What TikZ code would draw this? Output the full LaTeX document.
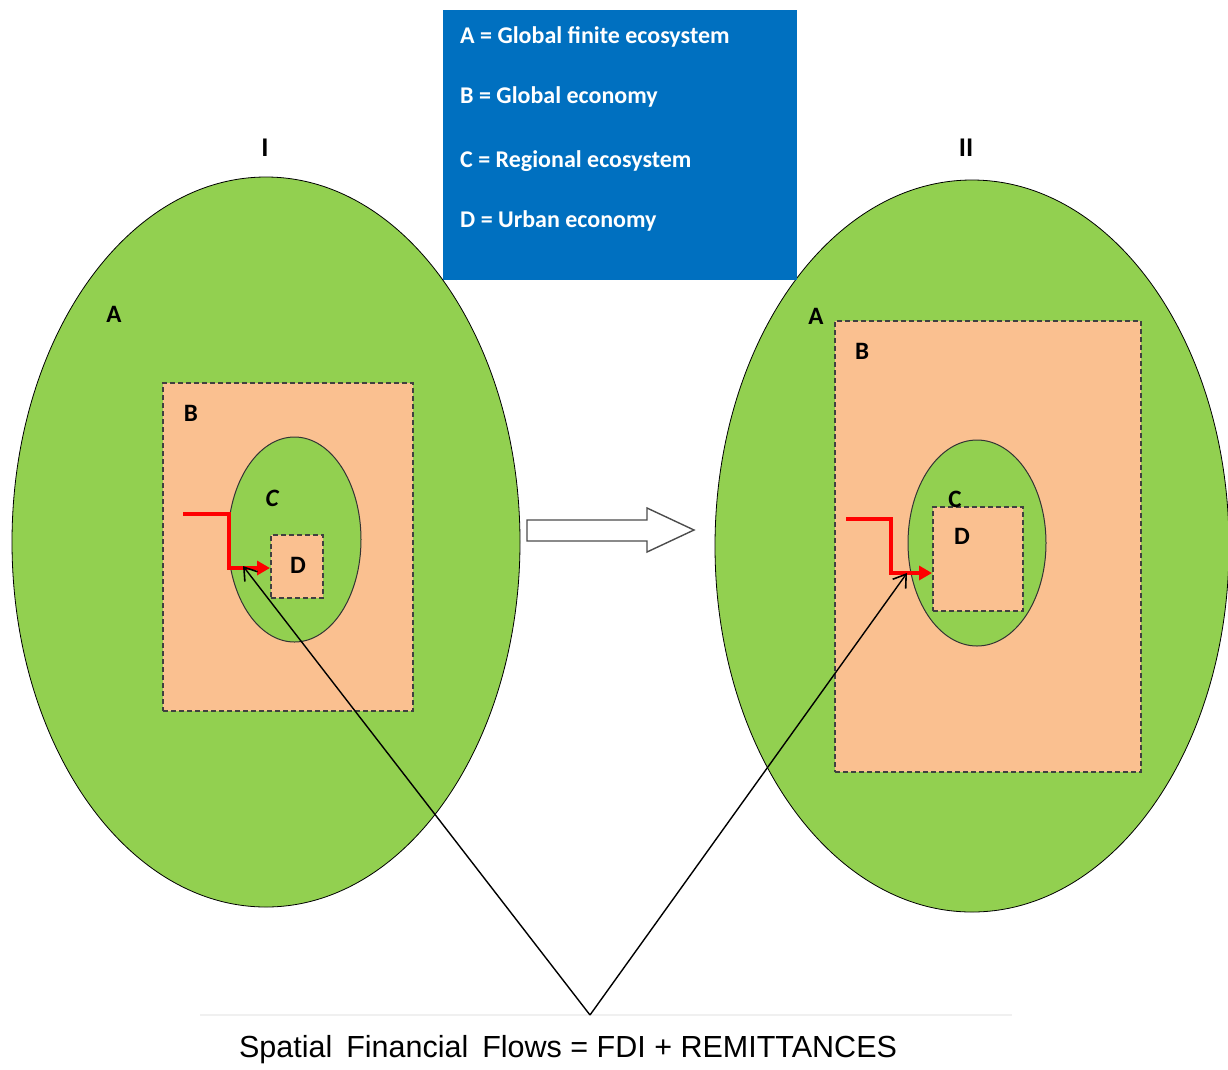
\documentclass[tikz,border=0pt]{standalone}
\usepackage{fontspec}
\setmainfont{Carlito}
\newfontfamily\arialf{Liberation Sans}
\usetikzlibrary{arrows.meta,shapes.geometric}
\definecolor{agreen}{HTML}{92D050}
\definecolor{peach}{HTML}{FAC090}
\definecolor{lblue}{HTML}{0070C0}
\definecolor{dashgray}{HTML}{404040}
\tikzset{
  bigell/.style={ellipse, draw=black, line width=0.8pt, fill=agreen, inner sep=0pt},
  regell/.style={ellipse, draw=black!80, line width=1pt, fill=agreen, inner sep=0pt},
  econbox/.style={draw=dashgray, dash pattern=on 5pt off 3pt, line width=2pt, fill=peach, inner sep=0pt},
  lbl/.style={font=\fontsize{25}{30}\selectfont\bfseries, text=black, inner sep=0pt},
  legtext/.style={font=\fontsize{24}{28}\selectfont\bfseries, text=white, anchor=west, inner sep=0pt},
  redflow/.style={draw=red, line width=3.8pt, -{Triangle[length=13pt,width=14pt]}},
  pointer/.style={draw=black, line width=1.4pt, -{Straight Barb[length=12pt,width=16pt,line width=1.6pt]}},
}
\begin{document}
\begin{tikzpicture}[x=1pt,y=-1pt]
\useasboundingbox (0,0) rectangle (1228,1069);
% Panel I
\node[bigell, minimum width=508pt, minimum height=730pt] (A1) at (266,542) {};
\node[econbox, minimum width=250pt, minimum height=328pt] (B1) at (288,547) {};
\node[regell, minimum width=133pt, minimum height=205pt] (C1) at (294.5,539.5) {};
\node[econbox, minimum width=52pt, minimum height=63pt] (D1) at (297,566.5) {};
\node[lbl] (lA1) at (114,314) {A};
\node[lbl] (lB1) at (191,413) {B};
\node[lbl, font=\fontsize{25}{30}\selectfont\bfseries\itshape] (lC1) at (272,498) {C};
\node[lbl] (lD1) at (298,565) {D};
\node[lbl, font=\fontsize{27}{30}\selectfont\bfseries] (t1) at (265,148) {I};
\coordinate (r1s) at (183,514);
\coordinate (r1e) at (D1.west |- 0,568);
% Panel II
\node[bigell, minimum width=514pt, minimum height=732pt] (A2) at (972,546) {};
\node[econbox, minimum width=306pt, minimum height=451pt] (B2) at (988,546.5) {};
\node[regell, minimum width=138pt, minimum height=206pt] (C2) at (977,543) {};
\node[econbox, minimum width=90pt, minimum height=104pt] (D2) at (978,559) {};
\node[lbl] (lA2) at (816,316) {A};
\node[lbl] (lB2) at (862,351) {B};
\node[lbl] (lC2) at (955,499) {C};
\node[lbl] (lD2) at (962,536) {D};
\node[lbl, font=\fontsize{27}{30}\selectfont\bfseries] (t2) at (966,148) {II};
\coordinate (r2s) at (846,519);
\coordinate (r2e) at (D2.west |- 0,573);
% Legend
\node[fill=lblue, minimum width=354pt, minimum height=270pt, inner sep=0pt] (leg) at (620,145) {};
\node[legtext] (l1) at (460,37) {A = Global finite ecosystem};
\node[legtext] (l2) at (460,97) {B = Global economy};
\node[legtext] (l3) at (460,161) {C = Regional ecosystem};
\node[legtext] (l4) at (460,221) {D = Urban economy};
% Transition arrow (block arrow)
\draw[draw=black!70, line width=1.4pt, fill=white, line join=miter]
  (527,520) -- (647,520) -- (647,508) -- (694,530) -- (647,552) -- (647,541) -- (527,541) -- cycle;
% red flows
\draw[redflow] (r1s) -- (229,514) -- (229,568) -- (r1e);
\draw[redflow] (r2s) -- (891,519) -- (891,573) -- (r2e);
% Bottom caption
\draw[black!6, line width=1.5pt] (200,1015) coordinate (bl) -- (1012,1015) coordinate (br);
\coordinate (apex) at (590,1015);
\node[font=\arialf\fontsize{30.5}{36}\selectfont, inner sep=0pt] (cap) at (568,1050) {Spatial\hspace{14pt}Financial\hspace{14pt}Flows = FDI + REMITTANCES};
\draw[pointer] (apex) -- (243,566);
\draw[pointer] (apex) -- (907,573);
\end{tikzpicture}
\end{document}
